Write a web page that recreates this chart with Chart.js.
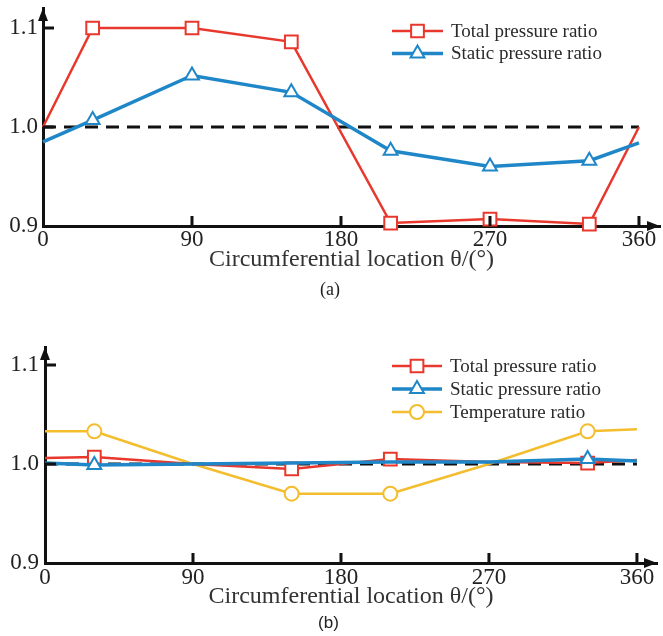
<!DOCTYPE html>
<html>
<head>
<meta charset="utf-8">
<script src="https://cdn.jsdelivr.net/npm/chart.js@4.4.0/dist/chart.umd.min.js"></script>
<style>
  html, body { margin: 0; padding: 0; background: #fff; }
  .panel { position: relative; width: 663px; height: 318px; }
</style>
</head>
<body>
<div class="panel"><canvas id="chartA"></canvas></div>
<div class="panel"><canvas id="chartB"></canvas></div>
<script>
// circumferential positions (deg) of the samples
const angles = [0, 30, 90, 150, 210, 270, 330, 360];
const xTicks = [0, 90, 180, 270, 360];
const yTicks = [0.9, 1.0, 1.1];
const refAngles = [0, 360];
const refLine = [1.0, 1.0];

// panel (a)
const totalA = [1.0, 1.1, 1.1, 1.086, 0.903, 0.907, 0.902, 1.0];
const staticA = [0.985, 1.007, 1.052, 1.035, 0.976, 0.96, 0.966, 0.984];
const markA = [0, 1, 1, 1, 1, 1, 1, 0];

// panel (b)
const totalB = [1.006, 1.007, 1.0, 0.995, 1.005, 1.002, 1.001, 1.004];
const staticB = [1.001, 0.999, 1.0, 1.001, 1.002, 1.002, 1.005, 1.003];
const tempB = [1.033, 1.033, 1.0, 0.97, 0.97, 1.0, 1.033, 1.035];
const markTotalB = [0, 1, 0, 1, 1, 0, 1, 0];
const markStaticB = [0, 1, 0, 0, 0, 0, 1, 0];
const markTempB = [0, 1, 0, 1, 1, 0, 1, 0];

const RED = '#e8382d';
const BLUE = '#1f87c8';
const YELLOW = '#f3bd2e';
const SERIF = '"Liberation Serif", "Times New Roman", serif';

Chart.defaults.font.family = SERIF;
Chart.defaults.color = '#222';

const pts = (vals, xs = angles) => xs.map((a, i) => ({ x: a, y: vals[i] }));

function series(label, vals, color, style, r, width, marks, order) {
  return {
    label: label,
    data: pts(vals),
    borderColor: color,
    borderWidth: width,
    backgroundColor: '#fff',
    pointStyle: style,
    pointRadius: marks.map(m => (m ? r : 0)),
    legendRadius: r,
    pointBorderWidth: 2,
    pointBackgroundColor: '#fff',
    pointBorderColor: color,
    tension: 0,
    clip: false,
    order: order,
  };
}

function refSeries() {
  return {
    data: pts(refLine, refAngles),
    borderColor: '#111',
    borderWidth: 3,
    borderDash: [13, 8],
    pointRadius: 0,
    clip: false,
    order: 9,
  };
}

// inward ticks and arrow heads on the axes
const axisDecor = {
  id: 'axisDecor',
  afterDraw(chart) {
    const { ctx, chartArea: a, scales: { x, y } } = chart;
    ctx.save();
    ctx.strokeStyle = '#111';
    ctx.fillStyle = '#111';
    ctx.lineWidth = 3;
    ctx.beginPath();
    xTicks.slice(1).forEach(v => {
      const px = x.getPixelForValue(v);
      ctx.moveTo(px, a.bottom);
      ctx.lineTo(px, a.bottom - 10);
    });
    yTicks.slice(1).forEach(v => {
      const py = y.getPixelForValue(v);
      ctx.moveTo(a.left, py);
      ctx.lineTo(a.left + 11, py);
    });
    ctx.stroke();
    ctx.beginPath();
    ctx.moveTo(a.left, a.top);
    ctx.lineTo(a.left - 5, a.top + 13);
    ctx.lineTo(a.left + 5, a.top + 13);
    ctx.closePath();
    ctx.moveTo(a.right, a.bottom);
    ctx.lineTo(a.right - 13, a.bottom - 5);
    ctx.lineTo(a.right - 13, a.bottom + 5);
    ctx.closePath();
    ctx.fill();
    ctx.restore();
  }
};

// legend with a line running through the marker
const lineLegend = {
  id: 'lineLegend',
  afterDraw(chart, args, opts) {
    const ctx = chart.ctx;
    const items = chart.data.datasets.filter(d => d.label);
    ctx.save();
    items.forEach((ds, i) => {
      const cy = opts.top + i * opts.rowGap;
      const x0 = opts.left, x1 = opts.left + opts.lineLen;
      ctx.strokeStyle = ds.borderColor;
      ctx.lineWidth = ds.borderWidth;
      ctx.beginPath();
      ctx.moveTo(x0, cy);
      ctx.lineTo(x1, cy);
      ctx.stroke();
      ctx.fillStyle = '#fff';
      ctx.lineWidth = ds.pointBorderWidth;
      Chart.helpers.drawPoint(ctx, {
        pointStyle: ds.pointStyle, radius: ds.legendRadius,
        borderWidth: ds.pointBorderWidth, rotation: 0
      }, (x0 + x1) / 2, cy);
      ctx.fillStyle = '#2a2a2a';
      ctx.font = opts.font;
      ctx.textBaseline = 'middle';
      ctx.textAlign = 'left';
      ctx.fillText(ds.label, x1 + opts.textGap, cy + 1);
    });
    ctx.restore();
  }
};

function makeChart(id, datasets, p) {
  return new Chart(document.getElementById(id), {
    type: 'line',
    data: { datasets: datasets },
    plugins: [axisDecor, lineLegend],
    options: {
      responsive: true,
      maintainAspectRatio: false,
      animation: false,
      events: [],
      layout: { padding: { top: p.top, right: p.right, left: 0, bottom: 0 } },
      scales: {
        x: {
          type: 'linear',
          min: 0,
          max: p.xMax,
          grid: { display: false, drawTicks: false },
          border: { display: true, color: '#111', width: 3 },
          afterBuildTicks: s => { s.ticks = xTicks.map(v => ({ value: v })); },
          afterFit: s => { s.height = p.xHeight; s.paddingLeft = 0; s.paddingRight = 0; },
          ticks: {
            padding: p.xPad,
            maxRotation: 0,
            autoSkip: false,
            color: '#222',
            font: { size: 23, lineHeight: 1 },
          },
          title: {
            display: true,
            text: 'Circumferential location θ/(°)',
            color: '#333',
            font: { size: 24, lineHeight: 1.2 },
            padding: { top: 0, bottom: p.titlePad },
          },
        },
        y: {
          type: 'linear',
          min: 0.9,
          max: p.yMax,
          grid: { display: false, drawTicks: false },
          border: { display: true, color: '#111', width: 3 },
          afterBuildTicks: s => { s.ticks = yTicks.map(v => ({ value: v })); },
          afterFit: s => { s.width = p.yWidth; s.paddingTop = 0; s.paddingBottom = 0; },
          ticks: {
            padding: p.yPad,
            color: '#222',
            font: { size: 23, lineHeight: 1 },
            callback: v => v.toFixed(1),
          },
        },
      },
      plugins: {
        legend: { display: false },
        tooltip: { enabled: false },
        title: {
          display: true,
          position: 'bottom',
          text: p.caption,
          color: '#222',
          font: p.captionFont,
          padding: { top: 0, bottom: p.captionPad },
        },
        lineLegend: p.legend,
      },
    },
  });
}

makeChart('chartA', [
  series('Total pressure ratio', totalA, RED, 'rect', 9, 2.5, markA, 1),
  series('Static pressure ratio', staticA, BLUE, 'triangle', 8, 3.5, markA, 0),
  refSeries(),
], {
  top: 8, right: 3, xMax: 372.7, yMax: 1.1202, yWidth: 43, yPad: 5,
  xHeight: 53.2, xPad: 2.5, titlePad: 4.8,
  caption: '(a)', captionFont: { family: SERIF, size: 18, weight: 'normal', lineHeight: 1.2 }, captionPad: 17.2,
  legend: { left: 392, top: 31, rowGap: 22.5, lineLen: 51, textGap: 8, font: '19px ' + SERIF },
});

makeChart('chartB', [
  series('Total pressure ratio', totalB, RED, 'rect', 9, 2.5, markTotalB, 1),
  series('Static pressure ratio', staticB, BLUE, 'triangle', 8, 3.5, markStaticB, 0),
  series('Temperature ratio', tempB, YELLOW, 'circle', 7, 2.5, markTempB, 2),
  refSeries(),
], {
  top: 29, right: 6, xMax: 372.2, yMax: 1.1182, yWidth: 45, yPad: 6,
  xHeight: 49.8, xPad: 3.5, titlePad: 1.4,
  caption: '(b)', captionFont: { family: '"Liberation Sans", Arial, sans-serif', size: 17, weight: 'normal', lineHeight: 1.2 }, captionPad: 2.8,
  legend: { left: 392, top: 48, rowGap: 23, lineLen: 50, textGap: 8, font: '19px ' + SERIF },
});
</script>
</body>
</html>
